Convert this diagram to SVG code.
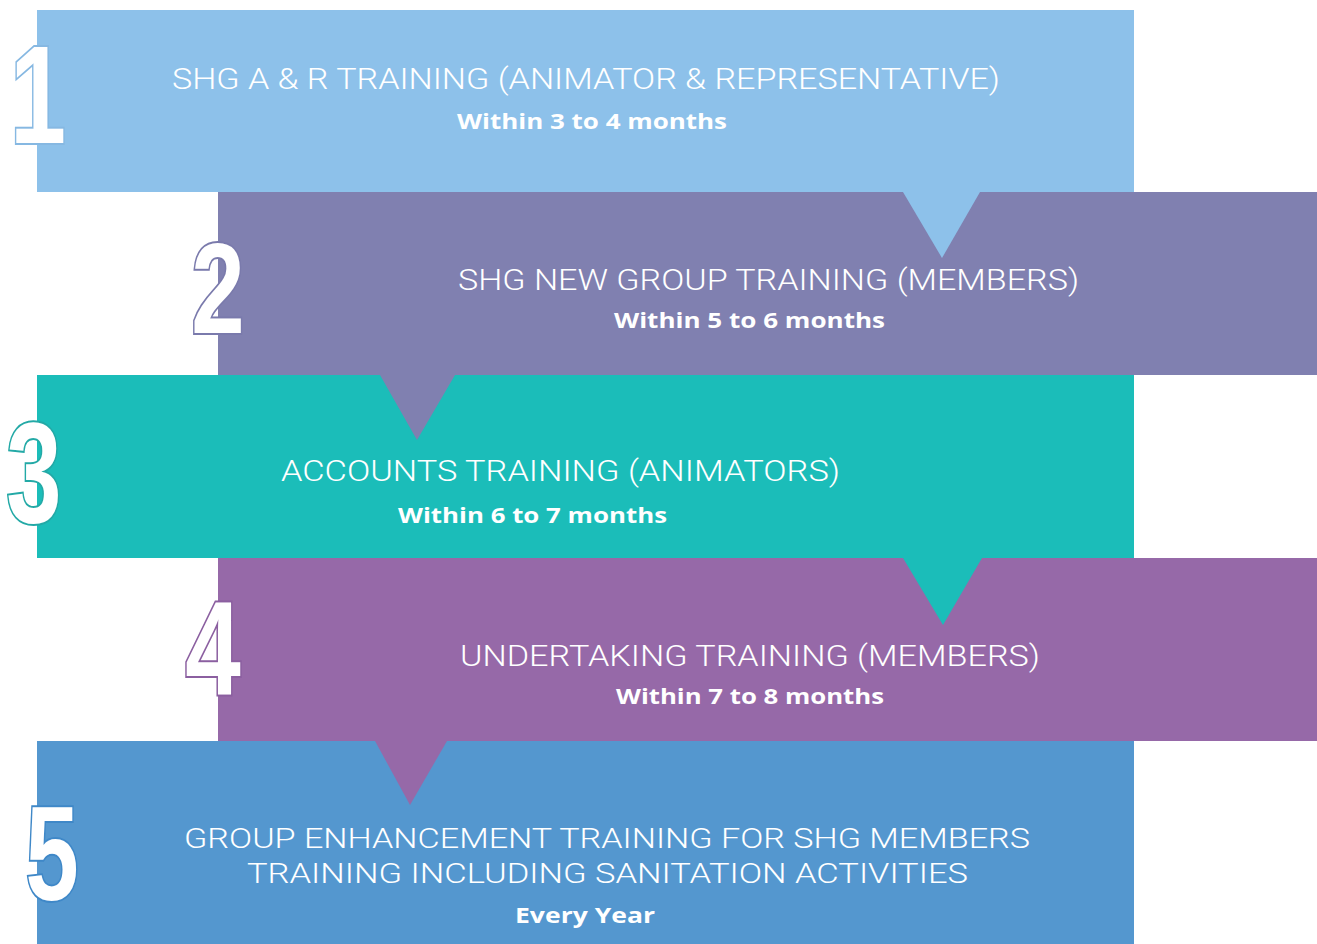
<svg xmlns="http://www.w3.org/2000/svg" width="1317" height="944" viewBox="0 0 1317 944">
<style>
.title{font-family:Roboto,"Open Sans","Liberation Sans",sans-serif;font-weight:300;font-size:29px;fill:#ffffff}
.t5{font-size:27px}
.sub{font-family:"Open Sans","Liberation Sans",sans-serif;font-weight:700;font-size:21px;fill:#ffffff}
.num{font-family:"Liberation Sans","DejaVu Sans",sans-serif;font-weight:700;fill:#ffffff;stroke-width:4;paint-order:stroke;stroke-linejoin:miter;text-anchor:middle}
</style>
<rect width="1317" height="944" fill="#ffffff"/>
<g id="step1">
<rect x="37" y="10" width="1097" height="182" fill="#8DC1EA"/>
<text class="title" x="172" y="89" textLength="828" lengthAdjust="spacingAndGlyphs">SHG A &amp; R TRAINING (ANIMATOR &amp; REPRESENTATIVE)</text>
<text class="sub" x="457" y="129" textLength="270" lengthAdjust="spacingAndGlyphs">Within 3 to 4 months</text>
</g>
<g id="step2">
<rect x="218" y="192" width="1099" height="183" fill="#8080B0"/>
<text class="title" x="458" y="290" textLength="621" lengthAdjust="spacingAndGlyphs">SHG NEW GROUP TRAINING (MEMBERS)</text>
<text class="sub" x="614" y="328" textLength="271" lengthAdjust="spacingAndGlyphs">Within 5 to 6 months</text>
</g>
<g id="step3">
<rect x="37" y="375" width="1097" height="183" fill="#1BBDB9"/>
<text class="title" x="281" y="481" textLength="559" lengthAdjust="spacingAndGlyphs">ACCOUNTS TRAINING (ANIMATORS)</text>
<text class="sub" x="398" y="523" textLength="269" lengthAdjust="spacingAndGlyphs">Within 6 to 7 months</text>
</g>
<g id="step4">
<rect x="218" y="558" width="1099" height="183" fill="#9669A8"/>
<text class="title" x="460" y="666" textLength="580" lengthAdjust="spacingAndGlyphs">UNDERTAKING TRAINING (MEMBERS)</text>
<text class="sub" x="616" y="704" textLength="268" lengthAdjust="spacingAndGlyphs">Within 7 to 8 months</text>
</g>
<g id="step5">
<rect x="37" y="741" width="1097" height="203" fill="#5497CF"/>
<text class="title t5" x="184" y="848" textLength="846" lengthAdjust="spacingAndGlyphs">GROUP ENHANCEMENT TRAINING FOR SHG MEMBERS</text>
<text class="title t5" x="247" y="883" textLength="721" lengthAdjust="spacingAndGlyphs">TRAINING INCLUDING SANITATION ACTIVITIES</text>
<text class="sub" x="515" y="923" textLength="140" lengthAdjust="spacingAndGlyphs">Every Year</text>
</g>
<g id="connectors">
<polygon points="903,192 980,192 942,258" fill="#8DC1EA"/>
<polygon points="380,375 455,375 417,440" fill="#8080B0"/>
<polygon points="903,558 982,558 943,625" fill="#1BBDB9"/>
<polygon points="375,741 447,741 410,805" fill="#9669A8"/>
</g>
<g id="numbers">
<text class="num" stroke="#86B8E2" font-size="140" transform="translate(38,143) scale(0.72,1)">1</text>
<text class="num" stroke="#7A7AAC" font-size="128" transform="translate(218,333) scale(0.75,1)">2</text>
<text class="num" stroke="#23A9A6" font-size="142" transform="translate(34,522) scale(0.7,1)">3</text>
<text class="num" stroke="#8B5FA0" font-size="133" transform="translate(213,695) scale(0.75,1)">4</text>
<text class="num" stroke="#3F88C8" font-size="133" transform="translate(52,900) scale(0.72,1)">5</text>
</g>
</svg>
